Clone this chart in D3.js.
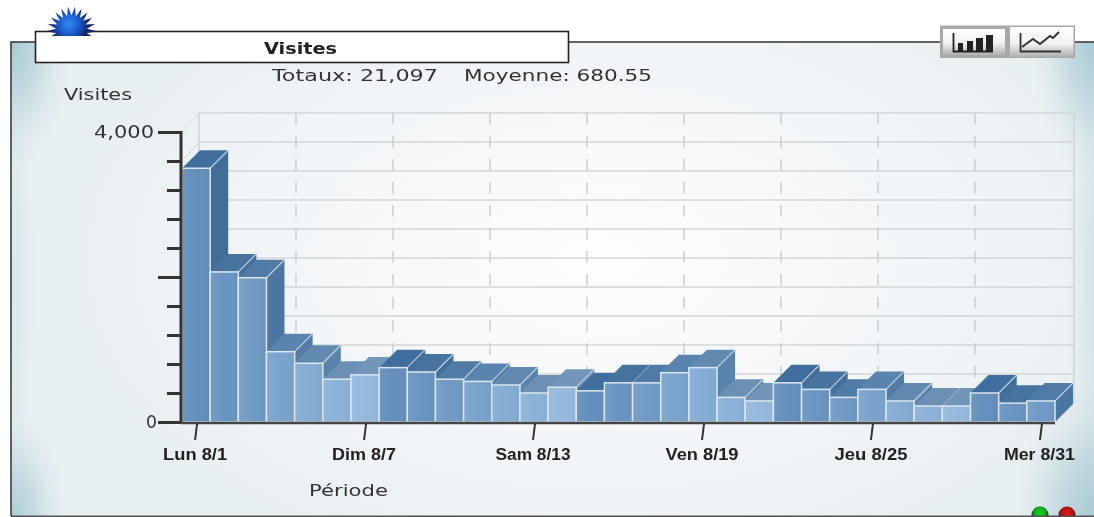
<!DOCTYPE html>
<html><head><meta charset="utf-8">
<script src="https://cdn.jsdelivr.net/npm/d3@7"></script>
<style>html,body{margin:0;padding:0;background:#fff;overflow:hidden}svg{display:block;filter:blur(0.35px)}
text{font-family:"DejaVu Sans",sans-serif}</style></head><body>
<svg id="c" width="1094" height="517"></svg>
<script>
const days = ["Lun 8/1","Mar 8/2","Mer 8/3","Jeu 8/4","Ven 8/5","Sam 8/6","Dim 8/7","Lun 8/8","Mar 8/9","Mer 8/10","Jeu 8/11","Ven 8/12","Sam 8/13","Dim 8/14","Lun 8/15","Mar 8/16","Mer 8/17","Jeu 8/18","Ven 8/19","Sam 8/20","Dim 8/21","Lun 8/22","Mar 8/23","Mer 8/24","Jeu 8/25","Ven 8/26","Sam 8/27","Dim 8/28","Lun 8/29","Mar 8/30","Mer 8/31"];
const visits = [3500,2070,1990,970,810,590,650,750,690,590,560,510,400,480,430,540,540,680,750,340,290,540,450,340,450,290,220,220,400,260,290];
const shownDays = ["Lun 8/1","Dim 8/7","Sam 8/13","Ven 8/19","Jeu 8/25","Mer 8/31"];
const shownWidths = [64,64,75,73,73,71];
const yTicks = d3.range(0,4001,400);
const gridValues = d3.range(0,4001,400);
const frontShades = ["#648fbc","#6a95c1","#709ac4","#7aa3cc","#84acd4","#8cb1d8","#95b8dd"];
const topShades = ["#416f9d","#47739f","#4f7ba6","#5a84ad","#628ab1","#6b90b4","#7296b9"];
const sideShades = ["#416d99","#446f9b","#4b76a1","#527ca6","#5a83ab","#6389af","#6b8fb3"];

const svg = d3.select("#c"), defs = svg.append("defs");
const L=182,R=1055,B=422,T=132,DX=18,DY=18;
const x = d3.scaleBand().domain(days).range([L,R]);
const y = d3.scaleLinear().domain([0,4000]).range([B,T]);

const fit=(sel,len)=>sel.attr("textLength",len).attr("lengthAdjust","spacingAndGlyphs");

// panel background
const bg = defs.append("radialGradient").attr("id","bg").attr("gradientUnits","userSpaceOnUse")
  .attr("cx",600).attr("cy",260).attr("r",560)
  .attr("gradientTransform","translate(600 260) scale(1 .6) translate(-600 -260)");
[[0,"#fdfefe"],[.4,"#f6f8f9"],[.8,"#edf2f4"],[1,"#e8eff1"]].forEach(s=>bg.append("stop").attr("offset",s[0]).attr("stop-color",s[1]));
svg.append("rect").attr("x",11).attr("y",42).attr("width",1083).attr("height",474).attr("fill","url(#bg)");
defs.append("clipPath").attr("id","panel").append("rect").attr("x",11).attr("y",42).attr("width",1083).attr("height",474);
const glowG=svg.append("g").attr("clip-path","url(#panel)");
[["l",11,280,26,300,"#dae7eb"],["r",1094,280,26,300,"#d2e3e7"],["tl",11,42,62,125,"#a9cad3"],["tr",1094,42,62,135,"#a9cbd5"],["bl",11,516,55,105,"#aecdd6"],["br",1094,516,80,135,"#a9cad4"]].forEach(([id,cx,cy,rx,ry,c])=>{
  const g=defs.append("radialGradient").attr("id","glow"+id);
  g.append("stop").attr("offset",0).attr("stop-color",c);
  g.append("stop").attr("offset",.4).attr("stop-color",c).attr("stop-opacity",.6);
  g.append("stop").attr("offset",.75).attr("stop-color",c).attr("stop-opacity",.15);
  g.append("stop").attr("offset",1).attr("stop-color",c).attr("stop-opacity",0);
  glowG.append("ellipse").attr("cx",cx).attr("cy",cy).attr("rx",rx).attr("ry",ry).attr("fill",`url(#glow${id})`);
});
svg.append("path").attr("d","M11,516V42H1094").attr("fill","none").attr("stroke","#333").attr("stroke-width",1.5);

// status lights
[[1040,"#0fa81a"],[1067,"#b81010"]].forEach(([cx,col],i)=>{
  const g=defs.append("radialGradient").attr("id","led"+i).attr("cy",.4);
  g.append("stop").attr("offset",0).attr("stop-color",i?"#e81818":"#18d828");
  g.append("stop").attr("offset",.7).attr("stop-color",col);
  g.append("stop").attr("offset",1).attr("stop-color","#222");
  svg.append("circle").attr("cx",cx).attr("cy",515).attr("r",8.5).attr("fill",`url(#led${i})`);
});
svg.append("path").attr("d","M11,516.2H1094").attr("fill","none").attr("stroke","#555").attr("stroke-width",1.5);

// title
svg.append("rect").attr("x",35.5).attr("y",31.5).attr("width",533).attr("height",31).attr("fill","#fff").attr("stroke","#222").attr("stroke-width",1.6);
// sun
const sg=defs.append("radialGradient").attr("id","sun").attr("gradientUnits","userSpaceOnUse").attr("cx",69).attr("cy",24).attr("r",19);
[[0,"#2f8cf0"],[.5,"#1c5fd0"],[1,"#12256e"]].forEach(s=>sg.append("stop").attr("offset",s[0]).attr("stop-color",s[1]));
const spikes=d3.range(0,44).map(i=>{const a=i/44*2*Math.PI,r=i%2?15.5:24.5;return [71.5+r*Math.cos(a),31+r*Math.sin(a)];});
defs.append("clipPath").attr("id","sunclip").append("rect").attr("x",40).attr("y",0).attr("width",70).attr("height",36);
svg.append("polygon").attr("points",spikes.join(" ")).attr("fill","url(#sun)").attr("clip-path","url(#sunclip)");

fit(svg.append("text").attr("x",264).attr("y",54).attr("font-weight","bold").attr("font-size",16.5).attr("fill","#222").text("Visites"),73);
fit(svg.append("text").attr("x",272).attr("y",81).attr("font-size",16.5).attr("fill","#333").text("Totaux: 21,097"),166);
fit(svg.append("text").attr("x",464).attr("y",81).attr("font-size",16.5).attr("fill","#333").text("Moyenne: 680.55"),188);
fit(svg.append("text").attr("x",64).attr("y",100).attr("font-size",16.5).attr("fill","#333").text("Visites"),68);
fit(svg.append("text").attr("x",309).attr("y",496).attr("font-size",16.5).attr("fill","#333").text("Période"),79);

// back wall
const wall=svg.append("g").attr("fill","none").attr("stroke","#d2d5d6").attr("stroke-width",1.5);
gridValues.forEach(v=>{
  wall.append("line").attr("x1",L+DX-1).attr("x2",R+DX+1).attr("y1",y(v)-DY-1).attr("y2",y(v)-DY-1).attr("stroke","#d3d6d7");
  if(v>0) wall.append("line").attr("x1",L).attr("x2",L+DX-1).attr("y1",y(v)).attr("y2",y(v)-DY-1).attr("stroke","#e2e5e6");
});
wall.append("line").attr("x1",L+DX-1).attr("x2",L+DX-1).attr("y1",T-DY-1).attr("y2",B-DY-1);
wall.append("line").attr("x1",R+DX+1).attr("x2",R+DX+1).attr("y1",T-DY-1).attr("y2",B-DY-1);
wall.append("line").attr("x1",R).attr("x2",R+DX+1).attr("y1",B).attr("y2",B-DY-1).attr("stroke","#dfe2e3").attr("stroke-width",3);
d3.range(1,9).forEach(i=>{
  const vx=L+DX-1+i*97;
  wall.append("line").attr("x1",vx).attr("x2",vx).attr("y1",T-DY-1).attr("y2",B-DY-1)
    .attr("stroke","#cbced0").attr("stroke-dasharray","11.5 11.5");
});

// front overlay gradient
const fg=defs.append("linearGradient").attr("id","fo").attr("x1",0).attr("x2",1).attr("y1",0).attr("y2",0);
[[0,"#fff",.06],[.5,"#fff",0],[1,"#000",.025]].forEach(s=>fg.append("stop").attr("offset",s[0]).attr("stop-color",s[1]).attr("stop-opacity",s[2]));

// bars
const w=x.bandwidth();
const bars=svg.append("g").selectAll("g").data(days).join("g");
const val=(d,i)=>visits[i];
bars.append("path").attr("d",(d,i)=>{const X=x(d)+w,Y=y(val(d,i));return `M${X},${Y}l${DX},${-DY}V${B-DY}L${X},${B}Z`;})
  .attr("fill",(d,i)=>sideShades[i%7]);
bars.append("path").attr("d",(d,i)=>{const X=x(d),Y=y(val(d,i));return `M${X},${Y}l${DX},${-DY}h${w}l${-DX},${DY}Z`;})
  .attr("fill",(d,i)=>topShades[i%7]);
bars.append("path").attr("d",(d,i)=>{const X=x(d)+w,Y=y(val(d,i));return `M${X},${Y}l${DX},${-DY}`;})
  .attr("fill","none").attr("stroke","#b9cde0").attr("stroke-width",1.2);
bars.append("rect").attr("x",d=>x(d)).attr("y",(d,i)=>y(val(d,i))).attr("width",w).attr("height",(d,i)=>B-y(val(d,i)))
  .attr("fill",(d,i)=>frontShades[i%7]).attr("stroke","#dbe6ef").attr("stroke-width",1.5);
bars.append("rect").attr("x",d=>x(d)+1).attr("y",(d,i)=>y(val(d,i))+1).attr("width",w-2).attr("height",(d,i)=>B-y(val(d,i))-2).attr("fill","url(#fo)");

// y axis
const isMajor=d=>d%2000===0;
const yAxis=d3.axisLeft(y).tickValues(yTicks).tickSize(14).tickFormat(d=>(d===0||d===4000)?d3.format(",")(d):"");
const ya=svg.append("g").attr("transform","translate(181,0)").call(yAxis);
ya.select(".domain").attr("stroke","#333").attr("stroke-width",3).attr("d",`M0,${T-1}V${B+1}`);
ya.selectAll(".tick line").attr("stroke","#333").attr("stroke-width",3).attr("x2",d=>isMajor(d)?-23:-14);
ya.selectAll(".tick text").attr("x",d=>d===0?-24:-27).attr("font-size",17).attr("fill","#333").style("font-family",'"DejaVu Sans"');
ya.selectAll(".tick").filter(d=>d===4000).select("text").call(s=>fit(s,60));
ya.selectAll(".tick").filter(d=>d===0).select("text").call(s=>fit(s,11));

// x axis
const xAxis=d3.axisBottom(x).tickValues(shownDays).tickSize(0);
const xa=svg.append("g").attr("transform",`translate(0,${B})`).call(xAxis);
xa.select(".domain").attr("stroke","#444").attr("stroke-width",2.5).attr("d",`M${L-1},1H${R}`);
xa.selectAll(".tick line").attr("stroke","#333").attr("stroke-width",2).attr("x1",1).attr("y1",2).attr("x2",-1).attr("y2",18);
xa.selectAll(".tick text").attr("y",27).attr("dy","0.71em").attr("font-size",16).attr("font-weight","bold").attr("fill","#222").style("font-family",'"Liberation Sans"')
  .attr("textLength",(d)=>shownWidths[shownDays.indexOf(d)]).attr("lengthAdjust","spacingAndGlyphs")
  .attr("text-anchor",d=>d==="Mer 8/31"?"end":"middle").attr("x",d=>d==="Mer 8/31"?34:-1);

// chart-type buttons
const btn=defs.append("linearGradient").attr("id","btn").attr("x1",0).attr("x2",0).attr("y1",0).attr("y2",1);
[[0,"#ffffff"],[.55,"#f1f1f1"],[1,"#b0b0b0"]].forEach(s=>btn.append("stop").attr("offset",s[0]).attr("stop-color",s[1]));
svg.append("rect").attr("x",940).attr("y",25.5).attr("width",135).attr("height",32.5).attr("fill","#a8a8a8");
svg.append("rect").attr("x",943).attr("y",29).attr("width",62).attr("height",26).attr("fill","url(#btn)");
svg.append("rect").attr("x",1010).attr("y",27).attr("width",63.5).attr("height",30).attr("fill","url(#btn)");
const ic=svg.append("g");
ic.append("path").attr("d","M953.5,33V51.5H993").attr("fill","none").attr("stroke","#222").attr("stroke-width",1.8);
ic.selectAll("rect").data([[958,43,5,9],[967,41,6,11],[976,38,7,14],[986,35,7,17]]).join("rect")
  .attr("x",d=>d[0]).attr("y",d=>d[1]).attr("width",d=>d[2]).attr("height",d=>d[3]).attr("fill","#222");
ic.append("path").attr("d","M1020.5,33V51.5H1061").attr("fill","none").attr("stroke","#333").attr("stroke-width",1.8);
ic.append("path").attr("d","M1022,47L1033,39L1040,44L1050,36L1053,38L1059,32").attr("fill","none").attr("stroke","#333").attr("stroke-width",2);
</script></body></html>
